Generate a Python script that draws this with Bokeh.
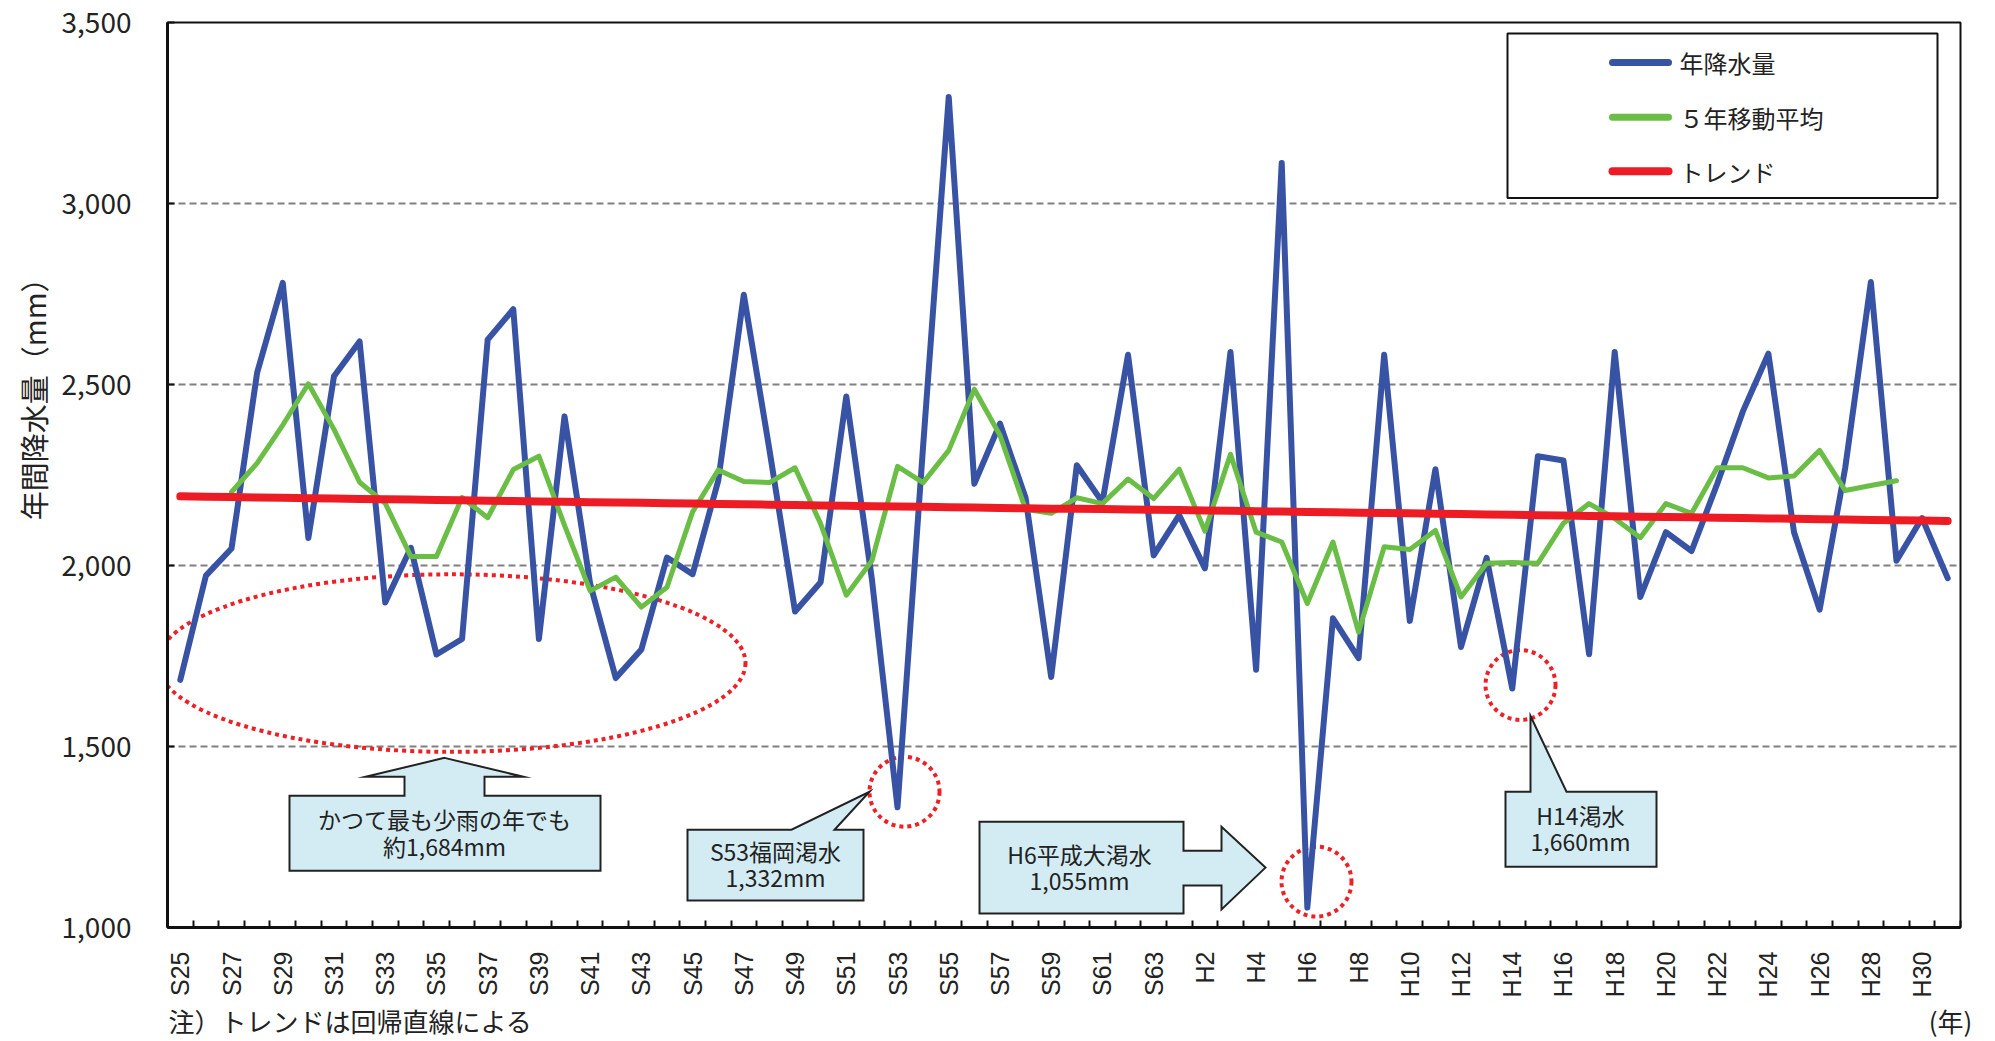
import math
from bokeh.plotting import figure
from bokeh.layouts import column
from bokeh.models import Range1d, FixedTicker, NumeralTickFormatter, Title
from bokeh.core.properties import value
from bokeh.embed import file_html
from bokeh.resources import INLINE

# ---------------- data ----------------
categories = ["S25", "S26", "S27", "S28", "S29", "S30", "S31", "S32", "S33", "S34",
              "S35", "S36", "S37", "S38", "S39", "S40", "S41", "S42", "S43", "S44",
              "S45", "S46", "S47", "S48", "S49", "S50", "S51", "S52", "S53", "S54",
              "S55", "S56", "S57", "S58", "S59", "S60", "S61", "S62", "S63", "H1",
              "H2", "H3", "H4", "H5", "H6", "H7", "H8", "H9", "H10", "H11",
              "H12", "H13", "H14", "H15", "H16", "H17", "H18", "H19", "H20", "H21",
              "H22", "H23", "H24", "H25", "H26", "H27", "H28", "H29", "H30", "H31"]

# 年降水量 (mm)
rainfall = [1684, 1972, 2047, 2533, 2781, 2076, 2523, 2619, 1898, 2049,
            1754, 1797, 2624, 2708, 1797, 2412, 1950, 1689, 1768, 2022,
            1976, 2234, 2748, 2320, 1873, 1954, 2467, 1962, 1332, 2330,
            3294, 2226, 2392, 2187, 1692, 2277, 2175, 2582, 2028, 2139,
            1992, 2590, 1712, 3112, 1055, 1854, 1744, 2582, 1847, 2266,
            1775, 2021, 1660, 2302, 2290, 1755, 2590, 1913, 2092, 2040,
            2225, 2425, 2585, 2092, 1878, 2270, 2783, 2013, 2131, 1965]

# ５年移動平均 (S27 .. H29)
ma_categories = categories[2:68]
moving_avg = [2203, 2283, 2388, 2502, 2376, 2230, 2172, 2025, 2025, 2188,
              2132, 2265, 2302, 2111, 1930, 1968, 1885, 1940, 2148, 2264,
              2232, 2229, 2270, 2115, 1918, 2013, 2274, 2229, 2318, 2487,
              2360, 2155, 2144, 2187, 2171, 2239, 2185, 2266, 2095, 2307,
              2092, 2065, 1895, 2065, 1816, 2052, 2044, 2097, 1913, 2006,
              2008, 2006, 2117, 2171, 2130, 2077, 2171, 2144, 2270, 2270,
              2242, 2247, 2318, 2207, 2221, 2234]

# トレンド (regression line)
trend = [2191, 2190, 2189, 2188, 2187, 2186, 2185, 2184, 2183, 2182,
         2181, 2180, 2179, 2178, 2177, 2176, 2175, 2174, 2173, 2172,
         2171, 2170, 2169, 2168, 2167, 2166, 2165, 2164, 2163, 2162,
         2161, 2160, 2159, 2158, 2157, 2157, 2156, 2155, 2154, 2153,
         2152, 2151, 2150, 2149, 2148, 2147, 2146, 2145, 2144, 2143,
         2142, 2141, 2140, 2139, 2138, 2137, 2136, 2135, 2134, 2133,
         2132, 2131, 2130, 2129, 2128, 2127, 2126, 2125, 2124, 2123]

y_ticks = [1000, 1500, 2000, 2500, 3000, 3500]
grid_values = [1500, 2000, 2500, 3000]

legend_labels = ["年降水量", "５年移動平均", "トレンド"]
series_colors = ["#3953A4", "#6ABD45", "#ED1C24"]

notes = {
    "low": ["かつて最も少雨の年でも", "約1,684mm"],
    "s53": ["S53福岡渇水", "1,332mm"],
    "h6": ["H6平成大渇水", "1,055mm"],
    "h14": ["H14渇水", "1,660mm"],
}
y_title = "年間降水量（mm）"
footnote = "注）トレンドは回帰直線による"
x_unit = "(年)"

# ---------------- layout ----------------
W = 1992
MAIN_H = 1000
FOOT_H = 40
FL, FR, FT, FB = 167, 1960, 22, 929   # frame edges in page pixels
N = len(categories)
JP = value("Noto Sans CJK JP")
INK = "#222222"


def X(px):
    return -0.5 + (px - FL) * N / (FR - FL)


def Y(py):
    return 1000 + (FB - py) * 2500 / (FB - FT)


xi = list(range(N))
idx_of = {c: i for i, c in enumerate(categories)}
ma_x = [idx_of[c] for c in ma_categories]

p = figure(width=W, height=MAIN_H, output_backend="svg", toolbar_location=None,
           x_range=Range1d(-0.5, N - 0.5), y_range=Range1d(1000, 3500),
           min_border_left=FL, min_border_right=W - FR,
           min_border_top=FT, min_border_bottom=MAIN_H - FB)
p.background_fill_color = "white"
p.border_fill_color = "white"
p.outline_line_color = "#111111"
p.outline_line_width = 2

# axes
p.yaxis.ticker = FixedTicker(ticks=y_ticks)
p.yaxis.formatter = NumeralTickFormatter(format="0,0")
p.yaxis.major_label_text_font = "Noto Sans CJK JP"
p.yaxis.major_label_text_font_size = "28px"
p.yaxis.major_label_text_color = INK
p.yaxis.major_label_standoff = 36
p.yaxis.major_tick_in = 7
p.yaxis.major_tick_out = 0
p.yaxis.major_tick_line_width = 2
p.yaxis.major_tick_line_color = "#111111"
p.yaxis.minor_tick_line_color = None
p.yaxis.axis_line_width = 3
p.yaxis.axis_line_color = "#111111"

label_ticks = xi[::2]
p.xaxis.ticker = FixedTicker(ticks=label_ticks,
                             minor_ticks=[i - 0.5 for i in range(N + 1)])
p.xaxis.major_label_overrides = {i: categories[i] for i in label_ticks}
p.xaxis.major_label_orientation = math.pi / 2
p.xaxis.major_label_text_font = "Liberation Sans"
p.xaxis.major_label_text_font_size = "25px"
p.xaxis.major_label_text_color = INK
p.xaxis.major_label_standoff = 24
p.xaxis.major_tick_line_color = None
p.xaxis.major_tick_in = 0
p.xaxis.major_tick_out = 0
p.xaxis.minor_tick_in = 7
p.xaxis.minor_tick_out = 0
p.xaxis.minor_tick_line_width = 2
p.xaxis.minor_tick_line_color = "#111111"
p.xaxis.axis_line_width = 3
p.xaxis.axis_line_color = "#111111"

p.xgrid.grid_line_color = None
p.ygrid.ticker = FixedTicker(ticks=grid_values)
p.ygrid.grid_line_color = "#808080"
p.ygrid.grid_line_width = 2
p.ygrid.grid_line_dash = "7 4"

# y-axis title (left-side title, its upper end at the reference position)
p.add_layout(Title(text=y_title, align="right", offset=263 - FT,
                   text_font="Noto Sans CJK JP", text_font_size="29px",
                   text_font_style="normal", text_color=INK), "left")

# ---------------- annotations (behind the lines) ----------------
RED_DOT = "#EE2026"
p.ellipse(x=[X(451)], y=[Y(664)], width=[X(451 + 588) - X(451)],
          height=[Y(664 - 178) - Y(664)], fill_color=None, line_color=RED_DOT,
          line_width=4, line_dash="4 4")
for cx, cy in [(904, 793), (1316, 883), (1520, 686)]:
    p.ellipse(x=[X(cx)], y=[Y(cy)], width=[X(cx + 70) - X(cx)],
              height=[Y(cy - 70) - Y(cy)], fill_color=None, line_color=RED_DOT,
              line_width=4, line_dash="4 4")

BOX_FILL = "#D3ECF3"
BOX_LINE = "#222222"
shapes = [
    [(444, 759), (523, 778), (484, 778), (484, 797), (600, 797), (600, 872),
     (289, 872), (289, 797), (404, 797), (404, 778), (365, 778)],
    [(687, 831), (791, 831), (869, 793), (834, 831), (863, 831), (863, 902),
     (687, 902)],
    [(979, 823), (1183, 823), (1183, 852), (1221, 852), (1221, 828),
     (1265, 869), (1221, 911), (1221, 887), (1183, 887), (1183, 915),
     (979, 915)],
    [(1505, 793), (1530, 793), (1530, 717), (1566, 793), (1656, 793),
     (1656, 868), (1505, 868)],
]
p.patches(xs=[[X(a) for a, b in s] for s in shapes],
          ys=[[Y(b) for a, b in s] for s in shapes],
          fill_color=BOX_FILL, line_color=BOX_LINE, line_width=2,
          line_join="miter")

note_pos = {"low": (444, 820, 847), "s53": (775, 852, 878),
            "h6": (1079, 855, 881), "h14": (1580, 816, 842)}
tx, ty, tt = [], [], []
for k, (cx, y1, y2) in note_pos.items():
    tx += [X(cx), X(cx)]
    ty += [Y(y1), Y(y2)]
    tt += notes[k]
p.text(x=tx, y=ty, text=tt, text_align="center", text_baseline="middle",
       text_font=JP, text_font_size="23px", text_color=INK)

# ---------------- data lines ----------------
p.line(xi, rainfall, line_color=series_colors[0], line_width=6,
       line_join="round", line_cap="round")
p.line(ma_x, moving_avg, line_color=series_colors[1], line_width=5,
       line_join="round", line_cap="round")
p.line(xi, trend, line_color=series_colors[2], line_width=8,
       line_join="round", line_cap="round")

# ---------------- legend (drawn) ----------------
p.quad(left=[X(1507)], right=[X(1937)], top=[Y(33)], bottom=[Y(198)],
       fill_color="white", line_color="#111111", line_width=2)
leg_rows = [62, 117, 171]
leg_widths = [7, 7, 8]
for r, c, lw, lab in zip(leg_rows, series_colors, leg_widths, legend_labels):
    p.segment(x0=[X(1612)], x1=[X(1668)], y0=[Y(r)], y1=[Y(r)],
              line_color=c, line_width=lw, line_cap="round")
p.text(x=[X(1679)] * 3, y=[Y(r) for r in leg_rows], text=legend_labels,
       text_align="left", text_baseline="middle", text_font=JP,
       text_font_size="24px", text_color=INK)

# ---------------- footer strip (footnote and unit) ----------------
foot = figure(width=W, height=FOOT_H, output_backend="svg", toolbar_location=None,
              x_range=Range1d(0, W), y_range=Range1d(FOOT_H, 0),
              min_border=0, x_axis_type=None, y_axis_type=None)
if "frame_align" in foot.properties():
    foot.frame_align = False
    p.frame_align = False
foot.outline_line_color = None
foot.background_fill_color = "white"
foot.border_fill_color = "white"
foot.grid.visible = False
foot.text(x=[168], y=[1020 - MAIN_H], text=[footnote], text_align="left",
          text_baseline="middle", text_font=JP, text_font_size="26px",
          text_color=INK)
foot.text(x=[1950], y=[1020 - MAIN_H], text=[x_unit], text_align="center",
          text_baseline="middle", text_font=JP, text_font_size="26px",
          text_color=INK)

layout = column(p, foot, spacing=0)
open("out.html", "w").write(file_html(layout, INLINE))
